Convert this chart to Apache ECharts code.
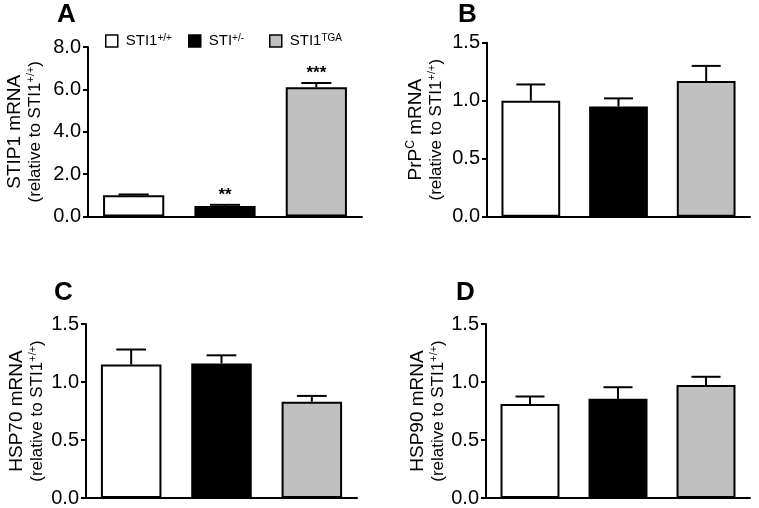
<!DOCTYPE html>
<html><head><meta charset="utf-8">
<script src="https://cdn.jsdelivr.net/npm/echarts@6/dist/echarts.min.js"></script>
<style>html,body{margin:0;padding:0;background:#fff}#c{width:759px;height:508px}</style>
</head><body><div id="c"></div>
<script>
const categories = ['STI1+/+', 'STI+/-', 'STI1TGA'];
const stip1 = [1.0, 0.5, 6.1];
const stip1Err = [0.04, 0.05, 0.2];
const stip1Sig = ['', '**', '***'];
const prpc = [1.0, 0.95, 1.17];
const prpcErr = [0.14, 0.07, 0.13];
const hsp70 = [1.15, 1.16, 0.83];
const hsp70Err = [0.13, 0.07, 0.05];
const hsp90 = [0.81, 0.855, 0.975];
const hsp90Err = [0.065, 0.1, 0.07];
const ticksA = [0, 8, 2];
const ticksBCD = [0, 1.5, 0.5];
const panelLetters = ['A', 'B', 'C', 'D'];

const F = '"Liberation Sans", Arial, sans-serif';
const colors = ['#ffffff', '#000000', '#c0c0c0'];
const relLine = '{r|(relative to STI1}{s|+/+}{r|)}';
const yNames = [
  '{t|STIP1 mRNA}\n' + relLine,
  '{t|PrP}{ts|C}{t| mRNA}\n' + relLine,
  '{t|HSP70 mRNA}\n' + relLine,
  '{t|HSP90 mRNA}\n' + relLine
];
const nameRich = {
  t: {fontSize: 19, fontFamily: F, color: '#000', lineHeight: 21},
  ts: {fontSize: 12, fontFamily: F, color: '#000', lineHeight: 21, verticalAlign: 'top'},
  r: {fontSize: 17, fontFamily: F, color: '#000', lineHeight: 21},
  s: {fontSize: 11, fontFamily: F, color: '#000', lineHeight: 21, verticalAlign: 'top'}
};

const grids = [
  {left: 88, top: 47, width: 274, height: 169.5},
  {left: 487, top: 42.7, width: 263, height: 174},
  {left: 86, top: 324, width: 271, height: 174.3},
  {left: 486, top: 324, width: 264, height: 174.3}
];
const nameGaps = [42, 40, 38, 36];
const panelVals = [stip1, prpc, hsp70, hsp90];
const panelErrs = [stip1Err, prpcErr, hsp70Err, hsp90Err];
const panelSigs = [stip1Sig, null, null, null];
const panelTicks = [ticksA, ticksBCD, ticksBCD, ticksBCD];
const letterPos = [[57, 2], [458, 2], [54, 280], [456, 280]];

const xAxes = grids.map((g, i) => ({
  type: 'category', gridIndex: i, data: categories,
  axisLine: {show: true, lineStyle: {color: '#000', width: 2}},
  axisTick: {show: false}, axisLabel: {show: false}, splitLine: {show: false}
}));
const yAxes = grids.map((g, i) => ({
  type: 'value', gridIndex: i,
  min: panelTicks[i][0], max: panelTicks[i][1], interval: panelTicks[i][2],
  axisLine: {show: true, lineStyle: {color: '#000', width: 2}},
  axisTick: {show: true, length: 5, lineStyle: {color: '#000', width: 2}},
  axisLabel: {color: '#000', fontSize: 20, fontFamily: F, margin: 7, formatter: v => v.toFixed(1)},
  splitLine: {show: false},
  name: yNames[i], nameLocation: 'middle', nameRotate: 90, nameGap: nameGaps[i],
  nameTextStyle: {rich: nameRich, align: 'center'}
}));

const series = [];
panelVals.forEach((vals, gi) => {
  categories.forEach((name, k) => {
    series.push({
      type: 'bar', name, xAxisIndex: gi, yAxisIndex: gi,
      barWidth: '67%', barGap: '-100%', silent: true,
      itemStyle: {color: colors[k], borderColor: '#000', borderWidth: 2},
      data: vals.map((v, i) => i === k ? v : '-')
    });
  });
  const errs = panelErrs[gi], sigs = panelSigs[gi];
  series.push({
    type: 'custom', xAxisIndex: gi, yAxisIndex: gi, z: 5, silent: true,
    data: vals.map((v, i) => [i, v, errs[i]]),
    renderItem(params, api) {
      const x = api.value(0), v = api.value(1), e = api.value(2);
      const base = api.coord([x, v]);
      const top = api.coord([x, v + e]);
      const half = api.size([1, 0])[0] * 0.165;
      const children = [
        {type: 'line', shape: {x1: base[0], y1: base[1], x2: top[0], y2: top[1]}, style: {stroke: '#000', lineWidth: 2}},
        {type: 'line', shape: {x1: top[0] - half, y1: top[1], x2: top[0] + half, y2: top[1]}, style: {stroke: '#000', lineWidth: 2}}
      ];
      const sig = sigs ? sigs[params.dataIndex] : '';
      if (sig) {
        children.push({type: 'text', style: {text: sig, x: top[0], y: top[1] - 1, align: 'center', verticalAlign: 'bottom', font: 'bold 17px ' + F, fill: '#000'}});
      }
      return {type: 'group', children};
    }
  });
});

const legendRich = {
  n: {fontSize: 15, fontFamily: F, color: '#000', lineHeight: 16},
  s: {fontSize: 10, fontFamily: F, color: '#000', lineHeight: 16, verticalAlign: 'top'}
};
const legendFmt = {
  'STI1+/+': '{n|STI1}{s|+/+}',
  'STI+/-': '{n|STI}{s|+/-}',
  'STI1TGA': '{n|STI1}{s|TGA}'
};
const legendLeft = [105, 188, 269];
const legends = categories.map((name, k) => ({
  data: [name], left: legendLeft[k], top: 33, orient: 'horizontal',
  icon: 'rect', itemWidth: 12, itemHeight: 12, padding: 0, selectedMode: false,
  itemStyle: {borderColor: '#000', borderWidth: 1.5},
  textStyle: {rich: legendRich, padding: [0, 0, 0, 3]},
  formatter: n => legendFmt[n]
}));

const chart = echarts.init(document.getElementById('c'), null, {renderer: 'canvas'});
chart.setOption({
  animation: false,
  backgroundColor: '#fff',
  grid: grids,
  xAxis: xAxes,
  yAxis: yAxes,
  legend: legends,
  series,
  graphic: panelLetters.map((L, i) => ({
    type: 'text', left: letterPos[i][0], top: letterPos[i][1],
    style: {text: L, font: 'bold 26px ' + F, fill: '#000'}
  }))
});
</script></body></html>
